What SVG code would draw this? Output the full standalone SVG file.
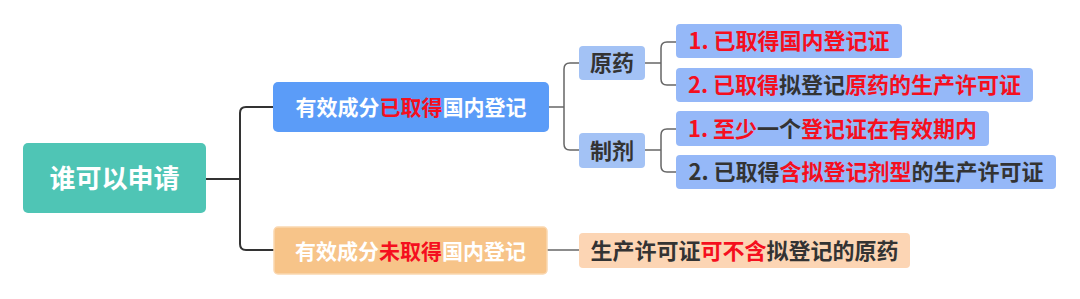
<svg xmlns="http://www.w3.org/2000/svg" width="1080" height="299" viewBox="0 0 1080 299">
<style>
text{font-family:"Noto Sans CJK SC","Noto Sans",sans-serif;font-weight:bold;text-anchor:middle}
.w{fill:#ffffff}
.d{fill:#333333}
.r{fill:#f50f1e}
.c1{stroke:#333333;stroke-width:2;fill:none}
.c2{stroke:#666666;stroke-width:1.5;fill:none}
.sub{fill:#a3c2f5}
.leaf{fill:#95b8f8}
</style>
<rect width="1080" height="299" fill="#ffffff"/>
<g id="connectors">
<path class="c1" d="M206 179 H240"/>
<path class="c1" d="M273 107 H246 Q240 107 240 113 V244 Q240 250 246 250 H274"/>
<path class="c2" d="M549 107 H564"/>
<path class="c2" d="M579 63 H570 Q564 63 564 69 V144 Q564 150 570 150 H579"/>
<path class="c2" d="M547 250 H579"/>
<path class="c2" d="M645 63 H661"/>
<path class="c2" d="M676 42 H667 Q661 42 661 48 V79 Q661 85 667 85 H676"/>
<path class="c2" d="M645 150 H661"/>
<path class="c2" d="M676 129 H667 Q661 129 661 135 V166 Q661 172 667 172 H676"/>
</g>
<g id="root">
<rect x="23" y="143" width="183" height="70" rx="5" fill="#4fc5b5"/>
<text x="114.5" y="188" font-size="26" class="w">谁可以申请</text>
</g>
<g id="obtained">
<rect x="273" y="82" width="276" height="50" rx="5" fill="#5b9cf8"/>
<text x="411" y="115" font-size="21" class="w">有效成分<tspan class="r">已取得</tspan>国内登记</text>
</g>
<g id="notobtained">
<rect x="274" y="227" width="273" height="47" rx="4" fill="#f7c489" stroke="#fad7b0" stroke-width="1.5"/>
<text x="410.5" y="258.5" font-size="21" class="w">有效成分<tspan class="r">未取得</tspan>国内登记</text>
</g>
<g id="license">
<rect x="579" y="233" width="331" height="35" rx="4" fill="#fcd5b4"/>
<text x="744.5" y="259" font-size="22" class="d">生产许可证<tspan class="r">可不含</tspan>拟登记的原药</text>
</g>
<g id="api">
<rect x="579" y="46" width="66" height="34" rx="4" class="sub"/>
<text x="612" y="71.4" font-size="22" class="d">原药</text>
</g>
<g id="formulation">
<rect x="579" y="133" width="66" height="35" rx="4" class="sub"/>
<text x="612" y="158.9" font-size="22" class="d">制剂</text>
</g>
<g id="api1">
<rect x="676" y="24" width="226" height="34" rx="4" class="leaf"/>
<text x="789" y="49.4" font-size="22" class="r">1. 已取得国内登记证</text>
</g>
<g id="api2">
<rect x="676" y="68" width="357" height="34" rx="4" class="leaf"/>
<text x="854.5" y="93.4" font-size="22" class="r">2. 已取得<tspan class="d">拟登记</tspan>原药的生产许可证</text>
</g>
<g id="form1">
<rect x="676" y="111" width="313" height="35" rx="4" class="leaf"/>
<text x="832.5" y="136.9" font-size="22" class="r">1. 至少<tspan class="d">一个</tspan>登记证在有效期内</text>
</g>
<g id="form2">
<rect x="676" y="155" width="380" height="34" rx="4" class="leaf"/>
<text x="866" y="180.4" font-size="22" class="d">2. 已取得<tspan class="r">含拟登记剂型</tspan>的生产许可证</text>
</g>
</svg>
